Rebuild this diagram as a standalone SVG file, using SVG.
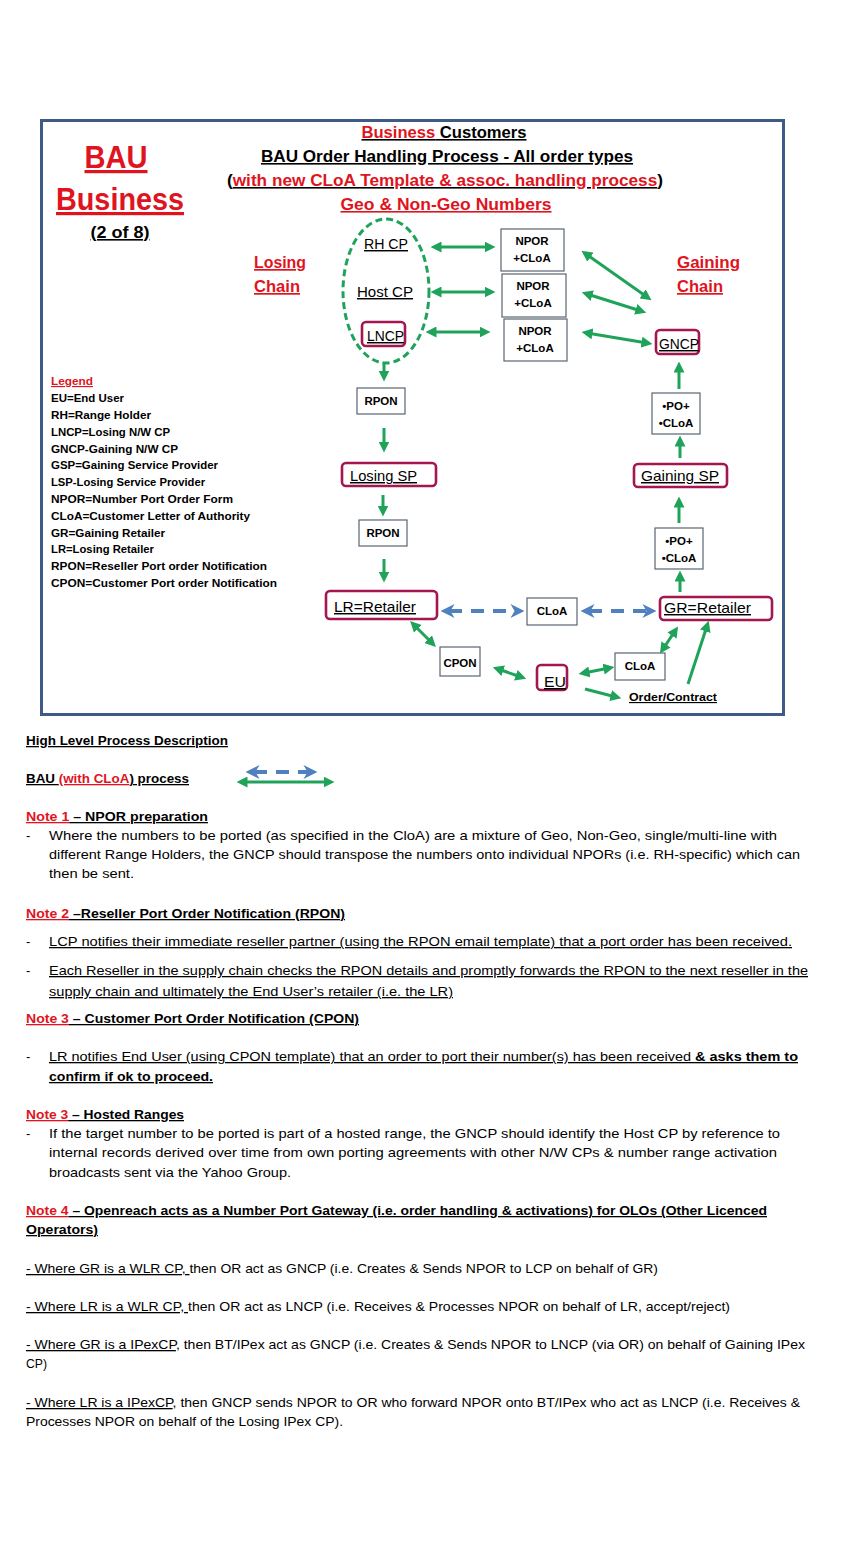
<svg xmlns="http://www.w3.org/2000/svg" width="850" height="1559" viewBox="0 0 850 1559">
<defs>
<style>
text{font-family:"Liberation Sans",Arial,sans-serif;}
.t{font-weight:bold;font-size:16px;text-decoration:underline;}
.r{fill:#e0141e;}
.k{fill:#000;}
.box{fill:#fff;stroke:#5a6470;stroke-width:1.2;}
.mb{fill:#fff;stroke:#a3164f;stroke-width:2.6;}
.bt{font-size:11.5px;font-weight:bold;text-anchor:middle;}
.nt{font-size:14.5px;text-decoration:underline;}
.lg{font-size:11.5px;font-weight:bold;}
.b{font-size:13px;}
.bb{font-size:13px;font-weight:bold;}
.u{text-decoration:underline;}
.g{stroke:#1fa35a;stroke-width:3;fill:none;}
.bl{stroke:#4f80bf;stroke-width:4;fill:none;stroke-dasharray:13 9;}
</style>
<marker id="ga" viewBox="0 0 10 10" refX="5" refY="5" markerWidth="11" markerHeight="11" markerUnits="userSpaceOnUse" orient="auto-start-reverse"><path d="M0,0 L10,5 L0,10 z" fill="#1fa35a"/></marker>
<marker id="ba" viewBox="0 0 10 10" refX="4" refY="5" markerWidth="14" markerHeight="14" markerUnits="userSpaceOnUse" orient="auto-start-reverse"><path d="M0,0 L10,5 L0,10 L3,5 z" fill="#4f80bf"/></marker>
</defs>
<rect width="850" height="1559" fill="#fff"/>
<rect x="41.5" y="120.5" width="742" height="594" fill="none" stroke="#3e5b87" stroke-width="3"/>

<g id="title">
<text class="t" x="444" y="138" text-anchor="middle" textLength="165" lengthAdjust="spacingAndGlyphs"><tspan class="r">Business</tspan><tspan class="k"> Customers</tspan></text>
<text class="t k" x="447" y="162" text-anchor="middle" textLength="372" lengthAdjust="spacingAndGlyphs">BAU Order Handling Process - All order types</text>
<text class="t" x="445" y="186" text-anchor="middle" textLength="436" lengthAdjust="spacingAndGlyphs"><tspan class="k">(</tspan><tspan class="r">with new CLoA Template &amp; assoc. handling process</tspan><tspan class="k">)</tspan></text>
<text class="t r" x="446" y="210" text-anchor="middle" textLength="211" lengthAdjust="spacingAndGlyphs">Geo &amp; Non-Geo Numbers</text>
<text class="r" x="116" y="168" text-anchor="middle" font-size="32" font-weight="bold" text-decoration="underline" textLength="63" lengthAdjust="spacingAndGlyphs">BAU</text>
<text class="r" x="120" y="210" text-anchor="middle" font-size="32" font-weight="bold" text-decoration="underline" textLength="128" lengthAdjust="spacingAndGlyphs">Business</text>
<text x="120" y="238" text-anchor="middle" font-size="16" font-weight="bold" text-decoration="underline" textLength="59" lengthAdjust="spacingAndGlyphs">(2 of 8)</text>
<text class="r" x="254" y="268" font-size="17" font-weight="bold" text-decoration="underline" textLength="52" lengthAdjust="spacingAndGlyphs">Losing</text>
<text class="r" x="254" y="292" font-size="17" font-weight="bold" text-decoration="underline" textLength="46" lengthAdjust="spacingAndGlyphs">Chain</text>
<text class="r" x="677" y="268" font-size="17" font-weight="bold" text-decoration="underline" textLength="63" lengthAdjust="spacingAndGlyphs">Gaining</text>
<text class="r" x="677" y="292" font-size="17" font-weight="bold" text-decoration="underline" textLength="46" lengthAdjust="spacingAndGlyphs">Chain</text>
</g>

<g id="legend">
<text class="lg r" x="51" y="385" text-decoration="underline" textLength="42" lengthAdjust="spacingAndGlyphs">Legend</text>
<text class="lg" x="51" y="402" textLength="73" lengthAdjust="spacingAndGlyphs">EU=End User</text>
<text class="lg" x="51" y="419" textLength="100" lengthAdjust="spacingAndGlyphs">RH=Range Holder</text>
<text class="lg" x="51" y="436" textLength="119" lengthAdjust="spacingAndGlyphs">LNCP=Losing N/W CP</text>
<text class="lg" x="51" y="453" textLength="127" lengthAdjust="spacingAndGlyphs">GNCP-Gaining N/W CP</text>
<text class="lg" x="51" y="469" textLength="167" lengthAdjust="spacingAndGlyphs">GSP=Gaining Service Provider</text>
<text class="lg" x="51" y="486" textLength="154" lengthAdjust="spacingAndGlyphs">LSP-Losing Service Provider</text>
<text class="lg" x="51" y="503" textLength="182" lengthAdjust="spacingAndGlyphs">NPOR=Number Port Order Form</text>
<text class="lg" x="51" y="520" textLength="199" lengthAdjust="spacingAndGlyphs">CLoA=Customer Letter of Authority</text>
<text class="lg" x="51" y="537" textLength="114" lengthAdjust="spacingAndGlyphs">GR=Gaining Retailer</text>
<text class="lg" x="51" y="553" textLength="103" lengthAdjust="spacingAndGlyphs">LR=Losing Retailer</text>
<text class="lg" x="51" y="570" textLength="216" lengthAdjust="spacingAndGlyphs">RPON=Reseller Port order Notification</text>
<text class="lg" x="51" y="587" textLength="226" lengthAdjust="spacingAndGlyphs">CPON=Customer Port order Notification</text>
</g>

<g id="losing-cps">
<ellipse cx="386" cy="291" rx="43" ry="72" fill="none" stroke="#1fa35a" stroke-width="3" stroke-dasharray="7 4"/>
</g>
<g id="rhcp"><text class="nt" x="364" y="249" textLength="44" lengthAdjust="spacingAndGlyphs">RH CP</text></g>
<g id="hostcp"><text class="nt" x="357" y="297" textLength="56" lengthAdjust="spacingAndGlyphs">Host CP</text></g>
<g id="lncp"><rect class="mb" x="362" y="322" width="43" height="24" rx="4"/><text class="nt" x="367" y="341" textLength="37" lengthAdjust="spacingAndGlyphs">LNCP</text></g>

<g id="npor1"><rect class="box" x="501" y="229" width="63" height="42"/><text class="bt" x="532" y="245">NPOR</text><text class="bt" x="532" y="262">+CLoA</text></g>
<g id="npor2"><rect class="box" x="502" y="274" width="64" height="43"/><text class="bt" x="533" y="290">NPOR</text><text class="bt" x="533" y="307">+CLoA</text></g>
<g id="npor3"><rect class="box" x="504" y="319" width="63" height="42"/><text class="bt" x="535" y="335">NPOR</text><text class="bt" x="535" y="352">+CLoA</text></g>

<g id="gncp"><rect class="mb" x="656" y="330" width="43" height="24" rx="4"/><text class="nt" x="659" y="349" textLength="40" lengthAdjust="spacingAndGlyphs">GNCP</text></g>
<g id="po1"><rect class="box" x="652" y="393" width="48" height="41"/><text class="bt" x="676" y="410">•PO+</text><text class="bt" x="676" y="427">•CLoA</text></g>
<g id="gainingsp"><rect class="mb" x="634" y="464" width="93" height="23" rx="4"/><text class="nt" x="641" y="481" textLength="78" lengthAdjust="spacingAndGlyphs">Gaining SP</text></g>
<g id="po2"><rect class="box" x="655" y="528" width="48" height="41"/><text class="bt" x="679" y="545">•PO+</text><text class="bt" x="679" y="562">•CLoA</text></g>
<g id="gr"><rect class="mb" x="660" y="597" width="112" height="23" rx="4"/><text class="nt" x="664" y="613" textLength="87" lengthAdjust="spacingAndGlyphs">GR=Retailer</text></g>

<g id="rpon1"><rect class="box" x="357" y="388" width="48" height="26"/><text class="bt" x="381" y="405">RPON</text></g>
<g id="losingsp"><rect class="mb" x="342" y="463" width="94" height="23" rx="4"/><text class="nt" x="350" y="481" textLength="67" lengthAdjust="spacingAndGlyphs">Losing SP</text></g>
<g id="rpon2"><rect class="box" x="359" y="520" width="48" height="26"/><text class="bt" x="383" y="537">RPON</text></g>
<g id="lr"><rect class="mb" x="326" y="591" width="111" height="28" rx="4"/><text class="nt" x="334" y="612" textLength="82" lengthAdjust="spacingAndGlyphs">LR=Retailer</text></g>
<g id="cloa1"><rect class="box" x="527" y="598" width="50" height="27"/><text class="bt" x="552" y="615">CLoA</text></g>
<g id="cpon"><rect class="box" x="440" y="647" width="40" height="29"/><text class="bt" x="460" y="667">CPON</text></g>
<g id="eu"><rect class="mb" x="537" y="665" width="30" height="25" rx="4"/><text class="nt" x="544" y="687" font-size="16" textLength="22" lengthAdjust="spacingAndGlyphs">EU</text></g>
<g id="cloa2"><rect class="box" x="615" y="653" width="50" height="27"/><text class="bt" x="640" y="670">CLoA</text></g>
<g id="order"><text x="629" y="701" font-size="11.5" font-weight="bold" text-decoration="underline" textLength="88" lengthAdjust="spacingAndGlyphs">Order/Contract</text></g>

<g id="connectors">
<line class="g" x1="436" y1="247" x2="490" y2="247" marker-start="url(#ga)" marker-end="url(#ga)"/>
<line class="g" x1="436" y1="292" x2="490" y2="292" marker-start="url(#ga)" marker-end="url(#ga)"/>
<line class="g" x1="431" y1="332" x2="485" y2="332" marker-start="url(#ga)" marker-end="url(#ga)"/>
<line class="g" x1="586" y1="254" x2="647" y2="297" marker-start="url(#ga)" marker-end="url(#ga)"/>
<line class="g" x1="587" y1="294" x2="641" y2="311" marker-start="url(#ga)" marker-end="url(#ga)"/>
<line class="g" x1="587" y1="333" x2="647" y2="343" marker-start="url(#ga)" marker-end="url(#ga)"/>
<line class="g" x1="679" y1="389" x2="679" y2="367" marker-end="url(#ga)"/>
<line class="g" x1="680" y1="458" x2="680" y2="441" marker-end="url(#ga)"/>
<line class="g" x1="679" y1="523" x2="679" y2="502" marker-end="url(#ga)"/>
<line class="g" x1="680" y1="592" x2="680" y2="576" marker-end="url(#ga)"/>
<line class="g" x1="384" y1="362" x2="384" y2="376" marker-end="url(#ga)"/>
<line class="g" x1="384" y1="428" x2="384" y2="447" marker-end="url(#ga)"/>
<line class="g" x1="383" y1="495" x2="383" y2="511" marker-end="url(#ga)"/>
<line class="g" x1="384" y1="559" x2="384" y2="577" marker-end="url(#ga)"/>
<line class="bl" x1="449" y1="611" x2="516" y2="611" marker-start="url(#ba)" marker-end="url(#ba)"/>
<line class="bl" x1="589" y1="611" x2="648" y2="611" marker-start="url(#ba)" marker-end="url(#ba)"/>
<line class="g" x1="414" y1="625" x2="432" y2="643" marker-start="url(#ga)" marker-end="url(#ga)"/>
<line class="g" x1="498" y1="669" x2="521" y2="677" marker-start="url(#ga)" marker-end="url(#ga)"/>
<line class="g" x1="584" y1="673" x2="609" y2="668" marker-start="url(#ga)" marker-end="url(#ga)"/>
<line class="g" x1="663" y1="649" x2="675" y2="631" marker-start="url(#ga)" marker-end="url(#ga)"/>
<line class="g" x1="585" y1="689" x2="616" y2="697" marker-end="url(#ga)"/>
<line class="g" x1="688" y1="684" x2="707" y2="626" marker-end="url(#ga)"/>
</g>

<g id="description">
<text class="bb" x="26" y="745" textLength="202" lengthAdjust="spacingAndGlyphs" text-decoration="underline">High Level Process Description</text>
<text class="bb" x="26" y="783" textLength="163" lengthAdjust="spacingAndGlyphs"><tspan class="u">BAU </tspan><tspan class="r u">(with CLoA</tspan><tspan class="u">) process</tspan></text>
<line class="bl" x1="254" y1="772" x2="309" y2="772" stroke-width="3.5" stroke-dasharray="11 7" marker-start="url(#ba)" marker-end="url(#ba)"/>
<line class="g" x1="242" y1="782" x2="329" y2="782" marker-start="url(#ga)" marker-end="url(#ga)"/>

<text class="bb" x="26" y="821" textLength="182" lengthAdjust="spacingAndGlyphs"><tspan class="r u">Note 1</tspan><tspan class="u"> – NPOR preparation</tspan></text>
<text class="b" x="26" y="840">-</text>
<text class="b" x="49" y="840" textLength="728" lengthAdjust="spacingAndGlyphs">Where the numbers to be ported (as specified in the CloA) are a mixture of Geo, Non-Geo, single/multi-line with</text>
<text class="b" x="49" y="859" textLength="751" lengthAdjust="spacingAndGlyphs">different Range Holders, the GNCP should transpose the numbers onto individual NPORs (i.e. RH-specific) which can</text>
<text class="b" x="49" y="878" textLength="85" lengthAdjust="spacingAndGlyphs">then be sent.</text>

<text class="bb" x="26" y="918" textLength="319" lengthAdjust="spacingAndGlyphs"><tspan class="r u">Note 2</tspan><tspan class="u"> –Reseller Port Order Notification (RPON)</tspan></text>
<text class="b" x="26" y="946">-</text>
<text class="b u" x="49" y="946" textLength="743" lengthAdjust="spacingAndGlyphs">LCP notifies their immediate reseller partner (using the RPON email template) that a port order has been received.</text>
<text class="b" x="26" y="975">-</text>
<text class="b u" x="49" y="975" textLength="759" lengthAdjust="spacingAndGlyphs">Each Reseller in the supply chain checks the RPON details and promptly forwards the RPON to the next reseller in the</text>
<text class="b u" x="49" y="996" textLength="404" lengthAdjust="spacingAndGlyphs">supply chain and ultimately the End User’s retailer (i.e. the LR)</text>

<text class="bb" x="26" y="1023" textLength="333" lengthAdjust="spacingAndGlyphs"><tspan class="r u">Note 3</tspan><tspan class="u"> – Customer Port Order Notification (CPON)</tspan></text>
<text class="b" x="26" y="1061">-</text>
<text class="b" x="49" y="1061" textLength="749" lengthAdjust="spacingAndGlyphs"><tspan class="u">LR notifies End User (using CPON template) that an order to port their number(s) has been received </tspan><tspan class="u" font-weight="bold">&amp; asks them to</tspan></text>
<text class="bb u" x="49" y="1081" textLength="164" lengthAdjust="spacingAndGlyphs">confirm if ok to proceed.</text>

<text class="bb" x="26" y="1119" textLength="158" lengthAdjust="spacingAndGlyphs"><tspan class="r u">Note 3</tspan><tspan class="u"> – Hosted Ranges</tspan></text>
<text class="b" x="26" y="1138">-</text>
<text class="b" x="49" y="1138" textLength="731" lengthAdjust="spacingAndGlyphs">If the target number to be ported is part of a hosted range, the GNCP should identify the Host CP by reference to</text>
<text class="b" x="49" y="1157" textLength="728" lengthAdjust="spacingAndGlyphs">internal records derived over time from own porting agreements with other N/W CPs &amp; number range activation</text>
<text class="b" x="49" y="1177" textLength="242" lengthAdjust="spacingAndGlyphs">broadcasts sent via the Yahoo Group.</text>

<text class="bb" x="26" y="1215" textLength="741" lengthAdjust="spacingAndGlyphs"><tspan class="r u">Note 4</tspan><tspan class="u"> – Openreach acts as a Number Port Gateway (i.e. order handling &amp; activations) for OLOs (Other Licenced</tspan></text>
<text class="bb u" x="26" y="1234" textLength="72" lengthAdjust="spacingAndGlyphs">Operators)</text>

<text class="b" x="26" y="1273" textLength="632" lengthAdjust="spacingAndGlyphs"><tspan class="u"> - Where GR is a WLR CP, </tspan><tspan>then OR act as GNCP (i.e. Creates &amp; Sends NPOR to LCP on behalf of GR)</tspan></text>
<text class="b" x="26" y="1311" textLength="704" lengthAdjust="spacingAndGlyphs"><tspan class="u"> - Where LR is a WLR CP, </tspan><tspan>then OR act as LNCP (i.e. Receives &amp; Processes NPOR on behalf of LR, accept/reject)</tspan></text>
<text class="b" x="26" y="1349" textLength="779" lengthAdjust="spacingAndGlyphs"><tspan class="u"> - Where GR is a IPexCP</tspan><tspan>, then BT/IPex act as GNCP (i.e. Creates &amp; Sends NPOR to LNCP (via OR) on behalf of Gaining IPex</tspan></text>
<text class="b" x="26" y="1368" textLength="21" lengthAdjust="spacingAndGlyphs">CP)</text>
<text class="b" x="26" y="1407" textLength="774" lengthAdjust="spacingAndGlyphs"><tspan class="u">- Where LR is a IPexCP</tspan><tspan>, then GNCP sends NPOR to OR who forward NPOR onto BT/IPex who act as LNCP (i.e. Receives &amp;</tspan></text>
<text class="b" x="26" y="1426" textLength="317" lengthAdjust="spacingAndGlyphs">Processes NPOR on behalf of the Losing IPex CP).</text>
</g>
</svg>
